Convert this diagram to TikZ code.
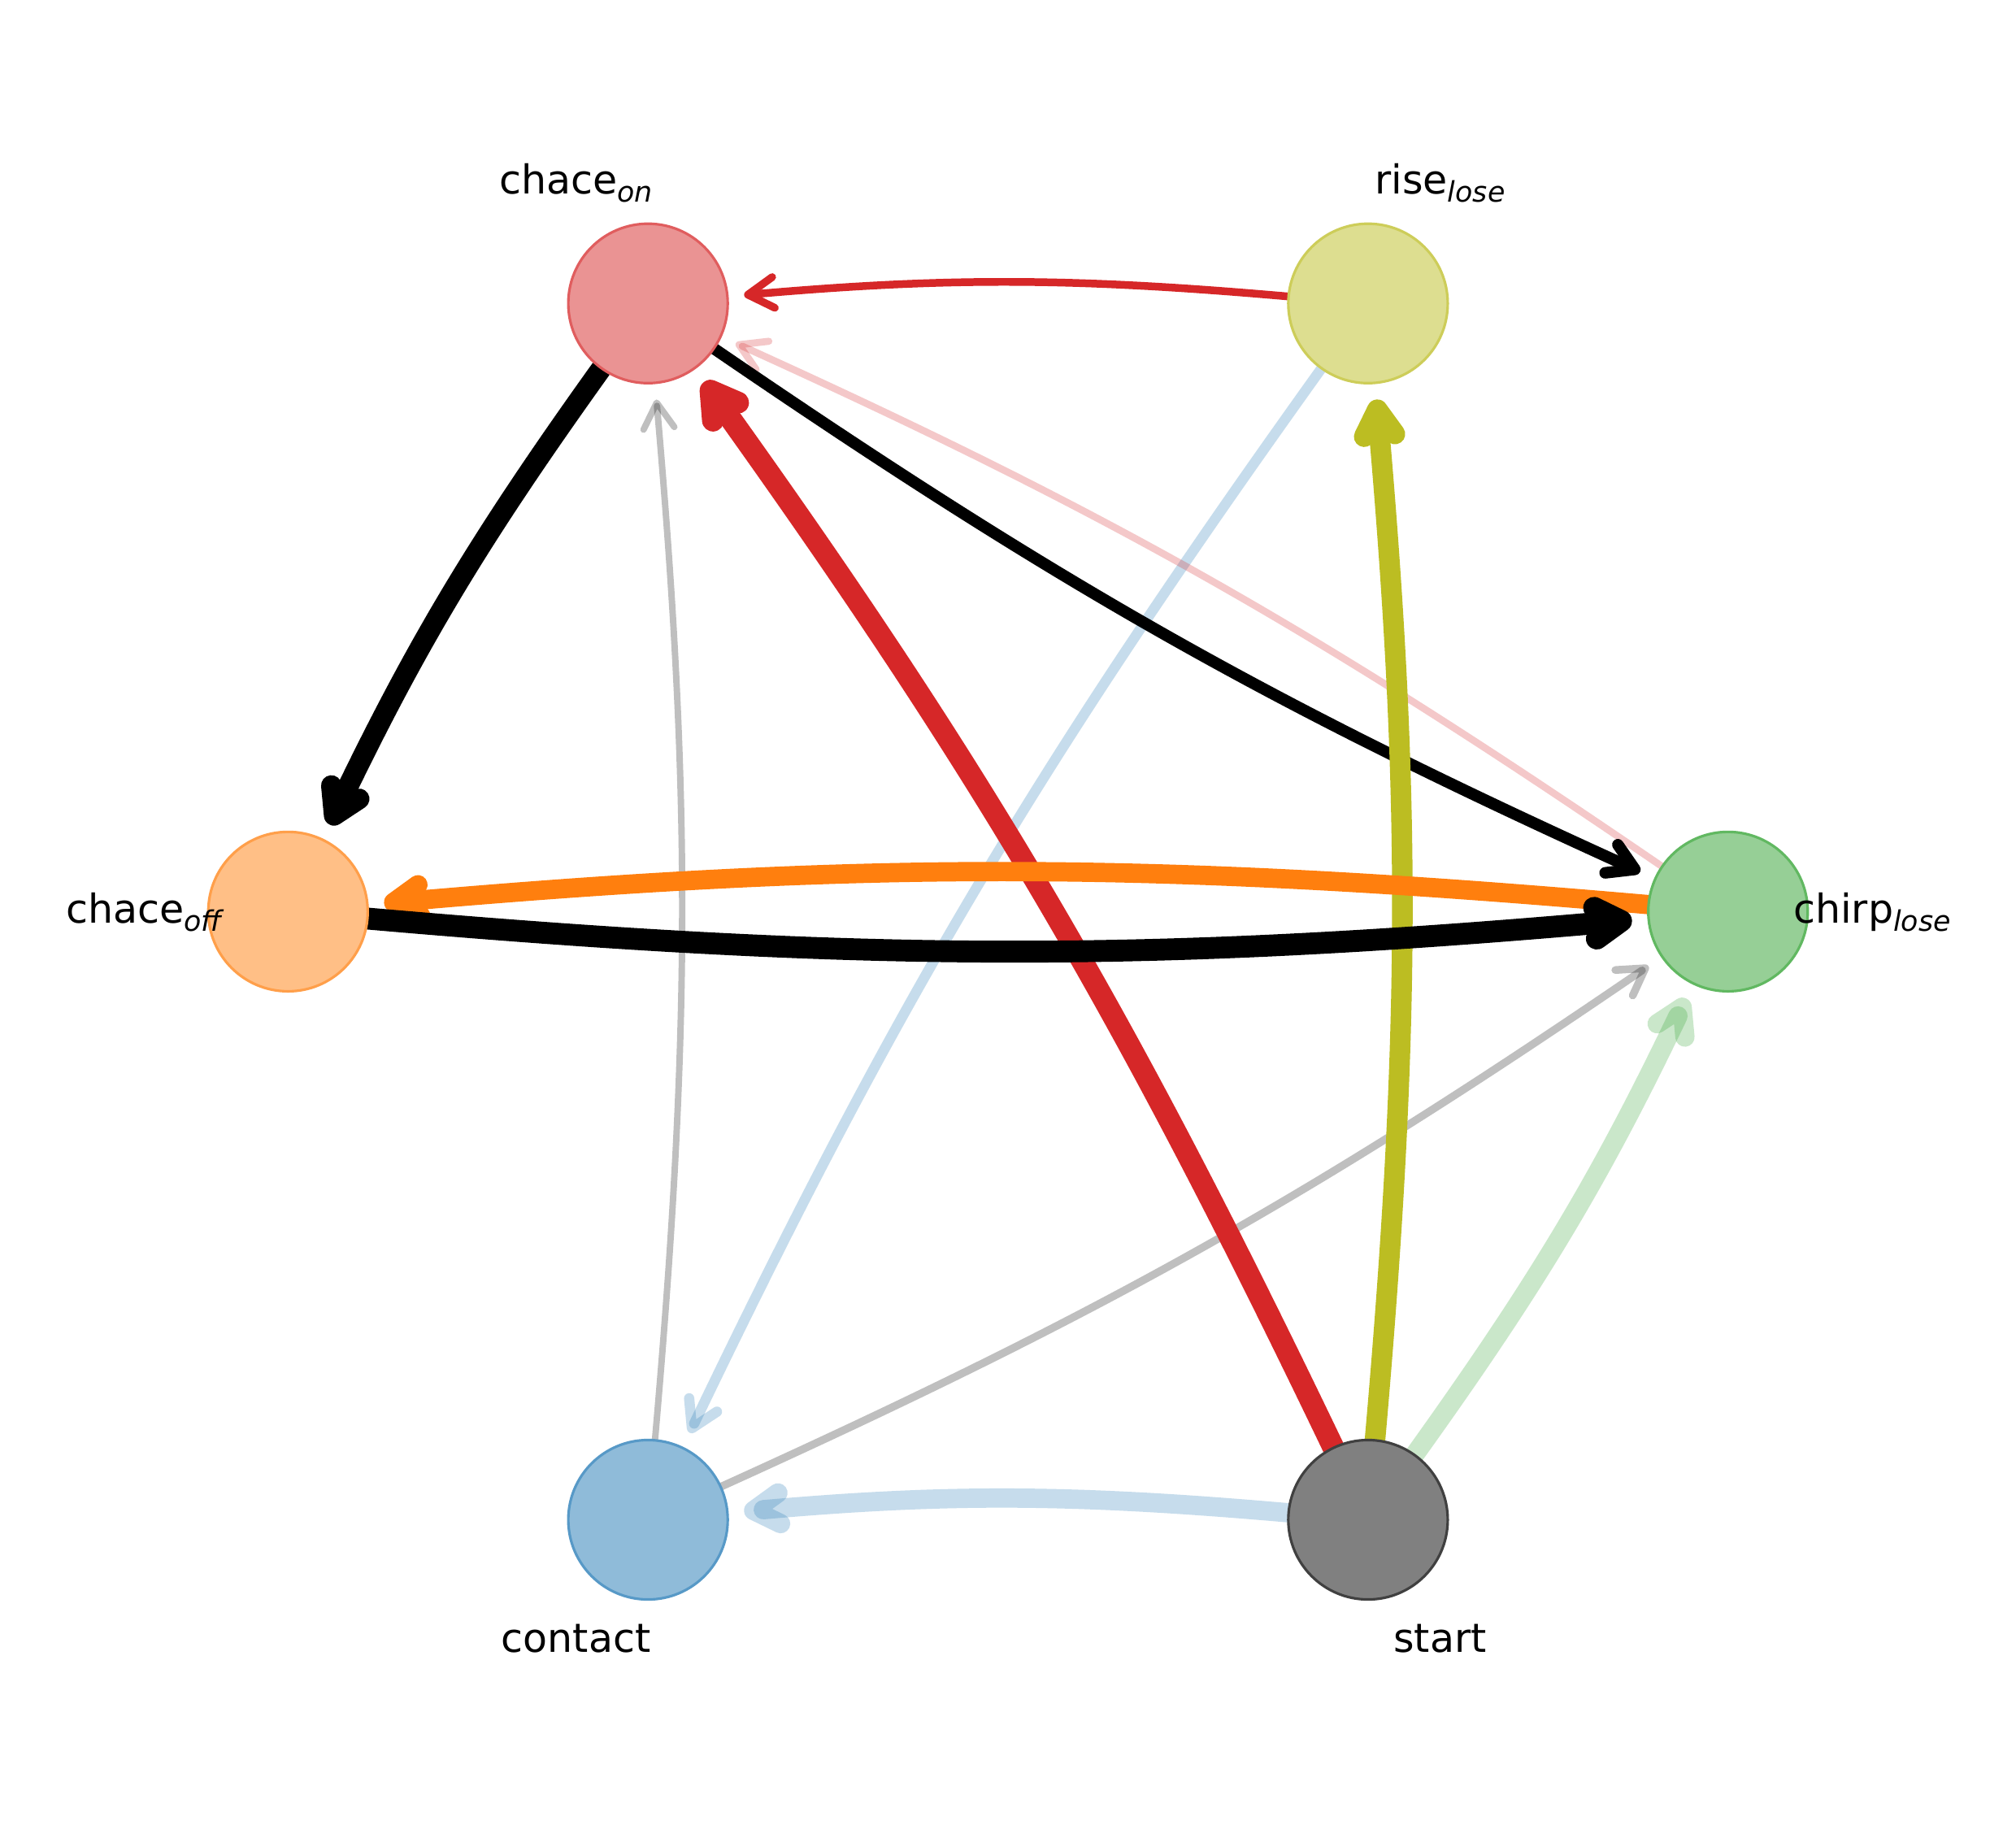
\documentclass[tikz,border=0pt]{standalone}
\usepackage{fontspec}
\setmainfont{DejaVu Sans}
\usetikzlibrary{arrows.meta}
\pgfdeclarelayer{bg}
\pgfsetlayers{bg,main}
\definecolor{tabred}{HTML}{D62728}
\definecolor{tabolive}{HTML}{BCBD22}
\definecolor{taborange}{HTML}{FF7F0E}
\definecolor{tabgreen}{HTML}{2CA02C}
\definecolor{tabblue}{HTML}{1F77B4}
\newcommand{\lblsub}[2]{#1\raisebox{-6pt}{\fontsize{22pt}{22pt}\selectfont\itshape #2}}
\tikzset{
  state/.style={circle, minimum size=124pt, inner sep=0pt, line width=2pt, fill=#1!50, draw=#1!75},
  lbl/.style={anchor=base, font=\fontsize{31pt}{31pt}\selectfont, inner sep=0pt},
  edge/.style={line cap=round, bend right=5, shorten >=12pt,
    -{Straight Barb[length=20pt,width=24pt,round]}},
}
\begin{document}
\begin{tikzpicture}[x=1pt,y=-1pt]
\useasboundingbox (0,0) rectangle (1568,1419);
% nodes
\node[state=tabred]    (chon)    at (504,236)  {};
\node[state=tabolive]  (rise)    at (1064,236) {};
\node[state=taborange] (choff)   at (224,709)  {};
\node[state=tabgreen]  (chirp)   at (1344,709) {};
\node[state=tabblue]   (contact) at (504,1182) {};
\node[state=black]     (start)   at (1064,1182) {};
% labels
\node[lbl] (lchon)    at (448,151)  {\lblsub{chace}{on}};
\node[lbl] (lrise)    at (1120,151) {\lblsub{rise}{lose}};
\node[lbl] (lchoff)   at (112,718)  {\lblsub{chace}{off}};
\node[lbl] (lchirp)   at (1456,718) {\lblsub{chirp}{lose}};
\node[lbl] (lcontact) at (448,1285) {contact};
\node[lbl] (lstart)   at (1120,1285) {start};
% edges
\begin{pgfonlayer}{bg}
\fill[white] (0,0) rectangle (1568,1419);
\draw[edge, tabblue, draw opacity=0.25, line width=8pt] (rise) to (contact);
\draw[edge, black, draw opacity=0.25, line width=5pt] (contact) to (chon);
\draw[edge, black, draw opacity=0.25, line width=6pt] (contact) to (chirp);
\draw[edge, tabred, draw opacity=0.25, line width=5.5pt] (chirp) to (chon);
\draw[edge, tabgreen, draw opacity=0.25, line width=15pt] (start) to (chirp);
\draw[edge, tabblue, draw opacity=0.25, line width=15pt] (start) to (contact);
\draw[edge, tabred, line width=6pt] (rise) to (chon);
\draw[edge, black, line width=9pt] (chon) to (chirp);
\draw[edge, black, line width=16pt] (chon) to (choff);
\draw[edge, tabred, line width=17pt] (start) to (chon);
\draw[edge, tabolive, line width=16pt] (start) to (rise);
\draw[edge, taborange, line width=15pt] (chirp) to (choff);
\draw[edge, black, line width=17pt] (choff) to (chirp);
\end{pgfonlayer}
\end{tikzpicture}
\end{document}
